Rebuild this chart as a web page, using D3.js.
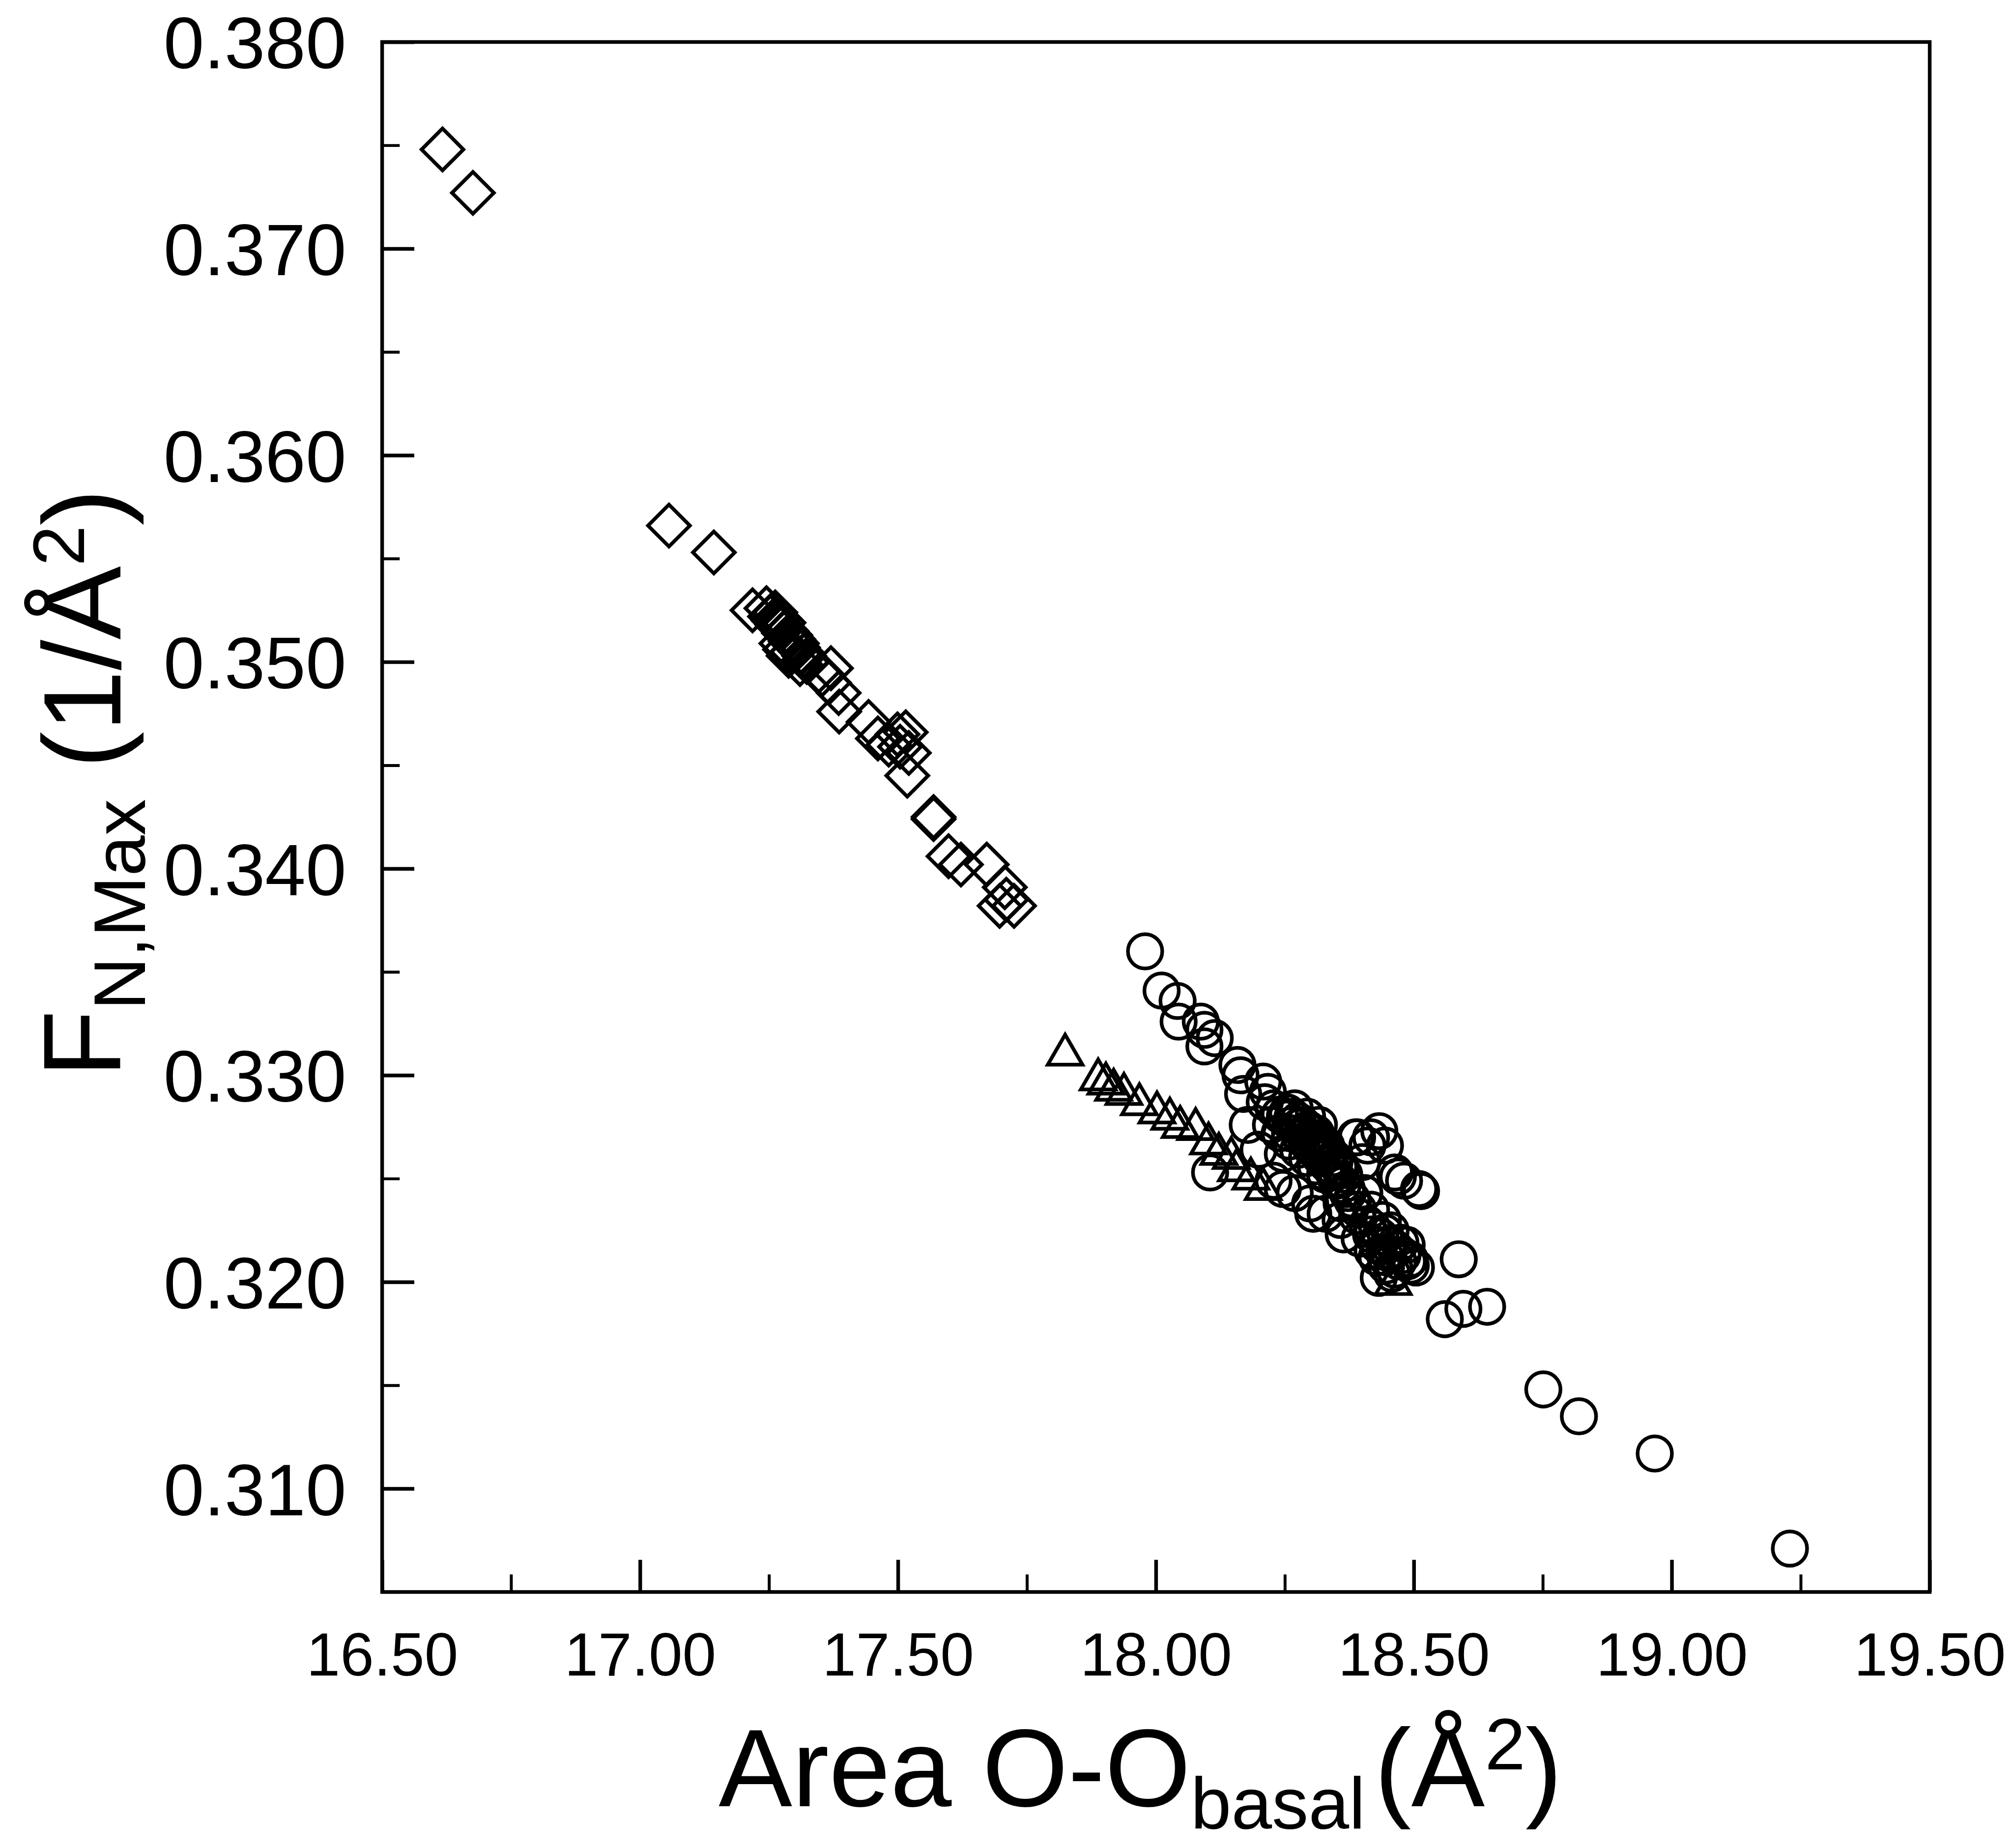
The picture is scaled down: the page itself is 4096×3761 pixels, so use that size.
<!DOCTYPE html>
<html>
<head>
<meta charset="utf-8">
<script src="https://cdn.jsdelivr.net/npm/d3@7"></script>
<style>
html,body{margin:0;padding:0;background:#fff;}
svg{display:block;}
text{font-family:"Liberation Sans",Arial,sans-serif;fill:#000;}
</style>
</head>
<body>
<svg id="chart"></svg>
<script>
// ---------------- data ----------------
const xTicks = [16.5, 17.0, 17.5, 18.0, 18.5, 19.0, 19.5];
const xTickLabels = ["16.50", "17.00", "17.50", "18.00", "18.50", "19.00", "19.50"];
const yTicks = [0.31, 0.32, 0.33, 0.34, 0.35, 0.36, 0.37, 0.38];
const yTickLabels = ["0.310", "0.320", "0.330", "0.340", "0.350", "0.360", "0.370", "0.380"];

const diamondX = [16.617,16.676,17.056,17.143,17.218,17.245,17.252,17.259,17.266,17.273,17.279,17.286,17.292,17.299,17.306,17.312,17.274,17.288,17.310,17.323,17.370,17.353,17.366,17.385,17.386,17.443,17.461,17.499,17.515,17.482,17.504,17.521,17.518,17.569,17.569,17.598,17.622,17.672,17.707,17.697,17.725,17.710,
  17.262,17.270,17.278,17.284,17.291,17.297,17.304,17.281,17.295,17.318];
const diamondY = [0.3748,0.3727,0.3566,0.3553,0.3525,0.3526,0.3522,0.3520,0.3518,0.3516,0.3514,0.3512,0.3510,0.3509,0.3507,0.3505,0.3509,0.3503,0.3499,0.3500,0.3497,0.3494,0.3490,0.3485,0.3476,0.3471,0.3463,0.3465,0.3466,0.3460,0.3459,0.3456,0.3445,0.3425,0.3424,0.3406,0.3402,0.3402,0.3391,0.3382,0.3382,0.3385,
  0.3524,0.3521,0.3519,0.3515,0.3513,0.3511,0.3509,0.3506,0.3505,0.3503];

const triangleX = [17.824,17.888,17.903,17.918,17.938,17.968,18.002,18.027,18.047,18.077,18.102,18.122,18.146,18.156,18.184,18.208,18.444,18.460];
const triangleY = [0.3310,0.3298,0.3296,0.3293,0.3291,0.3286,0.3282,0.3279,0.3275,0.3274,0.3267,0.3262,0.3260,0.3254,0.3250,0.3245,0.3212,0.3199];

const circleX = [17.979,18.011,18.042,18.044,18.087,18.094,18.094,18.114,18.158,18.164,18.208,18.169,18.217,18.178,18.199,18.105,
  18.417,18.387,18.433,18.410,18.463,18.510,18.481,
  18.587,18.560,18.596,18.642,18.751,18.820,18.967,19.229,
  18.329,18.358,18.364,18.417,18.428,18.446,18.463,18.492,18.504,18.486,18.417,18.404,18.305,18.269,18.299,18.246,18.228,
  18.211,18.228,18.240,18.252,18.264,18.276,18.287,18.299,18.310,18.322,18.334,18.346,18.358,18.240,18.258,18.276,18.293,18.310,18.328,18.269,18.293,18.316,18.223,18.246,
  18.390,18.444,18.469,18.514,18.400,18.395,18.420,18.444,18.474,18.494,18.432,
  18.280,18.300,18.320,18.340,18.260,18.250,18.310,18.330,18.350,18.370,18.380,18.360,18.390,18.410,18.430,18.450,18.470,
  18.255,18.265,18.275,18.285,18.295,18.305,18.315,18.325,18.335,18.345,18.355,18.365,18.282,18.292,18.302,18.312,18.322,18.332,18.342,18.352,18.362,18.372,18.382,18.392,
  18.420,18.435,18.450,18.440,18.455,18.465,18.478,18.488,18.458,18.445];
const circleY = [0.3360,0.3341,0.3336,0.3326,0.3326,0.3322,0.3314,0.3318,0.3305,0.3300,0.3297,0.3291,0.3292,0.3276,0.3264,0.3253,
  0.3270,0.3270,0.3273,0.3266,0.3253,0.3245,0.3249,
  0.3211,0.3182,0.3187,0.3188,0.3148,0.3135,0.3117,0.3071,
  0.3233,0.3230,0.3223,0.3223,0.3212,0.3208,0.3206,0.3211,0.3207,0.3218,0.3235,0.3243,0.3233,0.3243,0.3238,0.3245,0.3249,
  0.3287,0.3284,0.3281,0.3279,0.3276,0.3275,0.3272,0.3270,0.3268,0.3265,0.3262,0.3258,0.3254,0.3272,0.3268,0.3264,0.3260,0.3256,0.3252,0.3284,0.3280,0.3276,0.3276,0.3262,
  0.3270,0.3266,0.3251,0.3244,0.3258,0.3221,0.3215,0.3224,0.3219,0.3208,0.3202,
  0.3270,0.3265,0.3260,0.3255,0.3272,0.3280,0.3272,0.3266,0.3249,0.3245,0.3240,0.3238,0.3232,0.3228,0.3218,0.3214,0.3210,
  0.3282,0.3280,0.3278,0.3276,0.3274,0.3272,0.3269,0.3266,0.3263,0.3260,0.3256,0.3252,0.3270,0.3268,0.3266,0.3263,0.3260,0.3257,0.3254,0.3250,0.3247,0.3243,0.3239,0.3235,
  0.3226,0.3222,0.3218,0.3230,0.3225,0.3216,0.3213,0.3210,0.3204,0.3212];

// ---------------- layout (reference pixel space, scaled to window) ----------------
const REF_W = 5510, REF_H = 5060;
const OUT_W = 4096, OUT_H = 3761;
const plot = {left: 1046, right: 5282, top: 115, bottom: 4359};

const svg = d3.select("#chart")
  .attr("width", OUT_W).attr("height", OUT_H)
  .attr("viewBox", `0 0 ${REF_W} ${REF_H}`)
  .attr("preserveAspectRatio", "none");

svg.append("rect").attr("width", REF_W).attr("height", REF_H).attr("fill", "#fff");

const x = d3.scaleLinear().domain([16.5, 19.5]).range([plot.left, plot.right]);
const y = d3.scaleLinear().domain([0.305, 0.380]).range([plot.bottom, plot.top]);

const xMinor = d3.range(16.75, 19.5, 0.5);
const yMinor = d3.range(0.305, 0.3801, 0.01).filter(v => v < 0.3795);

// minor ticks
svg.append("g").attr("transform", `translate(0,${plot.bottom})`)
  .call(d3.axisBottom(x).tickValues(xMinor).tickSize(-48).tickFormat(""))
  .call(g => g.select(".domain").remove())
  .call(g => g.selectAll("line").attr("stroke", "#000").attr("stroke-width", 8));
svg.append("g").attr("transform", `translate(${plot.left},0)`)
  .call(d3.axisLeft(y).tickValues(yMinor).tickSize(-48).tickFormat(""))
  .call(g => g.select(".domain").remove())
  .call(g => g.selectAll("line").attr("stroke", "#000").attr("stroke-width", 8));

// major ticks + labels
svg.append("g").attr("transform", `translate(0,${plot.bottom})`)
  .call(d3.axisBottom(x).tickValues(xTicks).tickSize(-88).tickFormat((d, i) => xTickLabels[i]))
  .call(g => g.select(".domain").remove())
  .call(g => g.selectAll("line").attr("stroke", "#000").attr("stroke-width", 10))
  .call(g => g.selectAll("text").attr("y", 229).attr("dy", 0)
    .attr("font-size", 166).attr("font-family", "'Liberation Sans', Arial, sans-serif").attr("fill", "#000"));
svg.append("g").attr("transform", `translate(${plot.left},0)`)
  .call(d3.axisLeft(y).tickValues(yTicks).tickSize(-88).tickFormat((d, i) => yTickLabels[i]))
  .call(g => g.select(".domain").remove())
  .call(g => g.selectAll("line").attr("stroke", "#000").attr("stroke-width", 10))
  .call(g => g.selectAll("text").attr("x", -98).attr("dy", "0.36em")
    .attr("font-size", 200).attr("font-family", "'Liberation Sans', Arial, sans-serif").attr("fill", "#000"));

// frame
svg.append("rect")
  .attr("x", plot.left).attr("y", plot.top)
  .attr("width", plot.right - plot.left).attr("height", plot.bottom - plot.top)
  .attr("fill", "none").attr("stroke", "#000").attr("stroke-width", 10)
  .attr("stroke-linejoin", "miter");

// markers
const marks = svg.append("g").attr("fill", "none").attr("stroke", "#000")
  .attr("stroke-width", 10).attr("stroke-linejoin", "miter");

const diamonds = diamondX.map((v, i) => [v, diamondY[i]]);
const triangles = triangleX.map((v, i) => [v, triangleY[i]]);
const circles = circleX.map((v, i) => [v, circleY[i]]);

const sqSide = 81;
marks.selectAll("path.diamond").data(diamonds).join("path")
  .attr("class", "diamond")
  .attr("d", d3.symbol(d3.symbolSquare, sqSide * sqSide)())
  .attr("transform", d => `translate(${x(d[0])},${y(d[1])}) rotate(45)`);

const triSide = 95;
marks.selectAll("path.tri").data(triangles).join("path")
  .attr("class", "tri")
  .attr("d", d3.symbol(d3.symbolTriangle, Math.sqrt(3) / 4 * triSide * triSide)())
  .attr("transform", d => `translate(${x(d[0])},${y(d[1])})`);

marks.selectAll("circle").data(circles).join("circle")
  .attr("cx", d => x(d[0])).attr("cy", d => y(d[1])).attr("r", 47);

// axis titles
const xt = svg.append("text").attr("x", 1967).attr("y", 4945).attr("font-size", 302);
xt.append("tspan").text("Area O-O");
xt.append("tspan").attr("font-size", 200).attr("dy", 62).text("basal");
xt.append("tspan").attr("dy", -62).attr("dx", 25).text("(Å");
xt.append("tspan").attr("font-size", 200).attr("dy", -100).text("2");
xt.append("tspan").attr("dy", 100).text(")");

const yt = svg.append("text").attr("transform", "translate(330,2950) rotate(-90)")
  .attr("x", 0).attr("y", 0).attr("font-size", 302);
yt.append("tspan").text("F");
yt.append("tspan").attr("font-size", 200).attr("dy", 67).text("N,Max");
yt.append("tspan").attr("dy", -67).text(" (1/Å");
yt.append("tspan").attr("font-size", 200).attr("dy", -100).text("2");
yt.append("tspan").attr("dy", 100).text(")");
</script>
</body>
</html>
